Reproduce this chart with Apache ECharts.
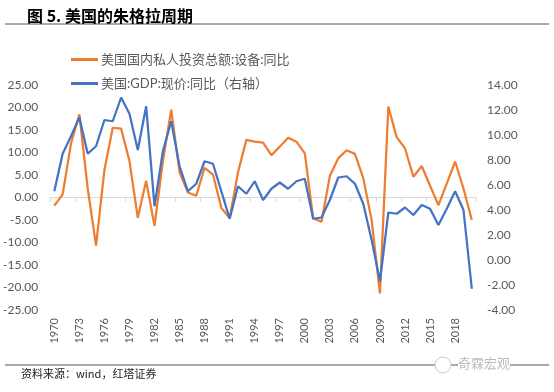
<!DOCTYPE html>
<html>
<head>
<meta charset="utf-8">
<script src="https://cdn.jsdelivr.net/npm/echarts@6/dist/echarts.min.js"></script>
<style>
html,body{margin:0;padding:0;background:#fff;}
#c{width:554px;height:392px;}
</style>
</head>
<body>
<div id="c"></div>
<script>
const years = ['1970','1971','1972','1973','1974','1975','1976','1977','1978','1979',
  '1980','1981','1982','1983','1984','1985','1986','1987','1988','1989',
  '1990','1991','1992','1993','1994','1995','1996','1997','1998','1999',
  '2000','2001','2002','2003','2004','2005','2006','2007','2008','2009',
  '2010','2011','2012','2013','2014','2015','2016','2017','2018','2019','2020'];
const investYoY = [-1.8,0.7,12.0,18.5,2.0,-10.7,6.1,15.5,15.3,8.1,
  -4.5,3.7,-6.3,8.0,19.5,5.6,1.1,0.4,6.6,5.1,
  -2.3,-4.6,5.6,12.8,12.4,12.2,9.4,11.3,13.3,12.4,
  9.8,-4.6,-5.4,4.8,8.7,10.5,9.7,4.3,-5.0,-21.3,
  20.2,13.4,10.9,4.6,7.0,2.6,-1.7,3.1,8.0,2.0,-5.0];
const gdpYoY = [5.5,8.5,9.9,11.4,8.5,9.1,11.2,11.1,13.0,11.7,
  8.8,12.3,4.3,8.7,11.1,7.5,5.5,6.1,7.9,7.7,
  5.5,3.3,5.9,5.3,6.3,4.8,5.7,6.2,5.7,6.3,
  6.5,3.3,3.4,4.8,6.6,6.7,6.1,4.5,1.6,-1.7,
  3.8,3.7,4.2,3.6,4.4,4.1,2.8,4.1,5.5,4.0,-2.3];
const leftAxis = {min:-25, max:25, interval:5};
const rightAxis = {min:-4, max:14, interval:2};
const seriesNames = ['美国国内私人投资总额:设备:同比','美国:GDP:现价:同比（右轴）'];
const titleText = '图 5. 美国的朱格拉周期';
const sourceText = '资料来源：wind，红塔证券';

const FONT = "Lato, 'Noto Sans CJK SC', sans-serif";
const chart = echarts.init(document.getElementById('c'), null, {renderer:'canvas'});
chart.setOption({
  backgroundColor:'#fff',
  animation:false,
  title:{text:titleText, left:22, top:3,
    textStyle:{fontSize:16, fontWeight:'bold', color:'#000', fontFamily:"'Noto Sans CJK SC', sans-serif"}},
  graphic:[
    {type:'line', shape:{x1:5,y1:24,x2:549,y2:24}, style:{stroke:'#555', lineWidth:1}},
    {type:'line', shape:{x1:5,y1:365,x2:549,y2:365}, style:{stroke:'#555', lineWidth:1}},
    {type:'text', left:21, top:368, style:{text:sourceText, fontSize:11, fill:'#222', fontFamily:"'Noto Sans CJK SC', sans-serif"}},
    {type:'circle', shape:{cx:443,cy:365,r:8}, style:{fill:'#fff', stroke:'#ccc', lineWidth:1}},
    {type:'text', left:458, top:357, style:{text:'奇霖宏观', fontSize:13, fill:'#bbb', backgroundColor:'#fff', fontFamily:"'Noto Sans CJK SC', sans-serif"}}
  ],
  legend:{
    orient:'vertical', left:66, top:48, itemWidth:27, itemHeight:3, itemGap:11,
    icon:'rect',
    textStyle:{fontSize:13, color:'#595959', fontFamily:FONT, padding:[0,0,0,-2]},
    data:seriesNames
  },
  grid:{left:50, right:78, top:85, bottom:82},
  xAxis:[
    {type:'category', data:years, boundaryGap:true, position:'bottom',
      axisLine:{show:true, onZero:true, onZeroAxisIndex:0, lineStyle:{color:'#d9d9d9', width:1}},
      axisTick:{show:true, interval:2, length:4, lineStyle:{color:'#d9d9d9'}},
      axisLabel:{show:false}, splitLine:{show:false}},
    {type:'category', data:years, boundaryGap:true, position:'bottom', offset:0,
      axisLine:{show:false, onZero:false}, axisTick:{show:false},
      axisLabel:{show:true, interval:2, rotate:90, margin:8, fontSize:11, color:'#595959', fontFamily:FONT},
      splitLine:{show:false}}
  ],
  yAxis:[
    {type:'value', min:leftAxis.min, max:leftAxis.max, interval:leftAxis.interval, position:'left',
      axisLine:{show:false}, axisTick:{show:false}, splitLine:{show:false},
      axisLabel:{margin:12, fontSize:12, color:'#595959', fontFamily:FONT, formatter:v=>v.toFixed(2)}},
    {type:'value', min:rightAxis.min, max:rightAxis.max, interval:rightAxis.interval, position:'right',
      axisLine:{show:false}, axisTick:{show:false}, splitLine:{show:false},
      axisLabel:{margin:11, fontSize:12, color:'#595959', fontFamily:FONT, formatter:v=>v.toFixed(2)}}
  ],
  series:[
    {name:seriesNames[0], type:'line', xAxisIndex:0, yAxisIndex:0, data:investYoY, symbol:'none',
      lineStyle:{color:'#ED7D31', width:2.25}, itemStyle:{color:'#ED7D31'}},
    {name:seriesNames[1], type:'line', xAxisIndex:0, yAxisIndex:1, data:gdpYoY, symbol:'none',
      lineStyle:{color:'#4472C4', width:2.25}, itemStyle:{color:'#4472C4'}}
  ]
});
</script>
</body>
</html>
